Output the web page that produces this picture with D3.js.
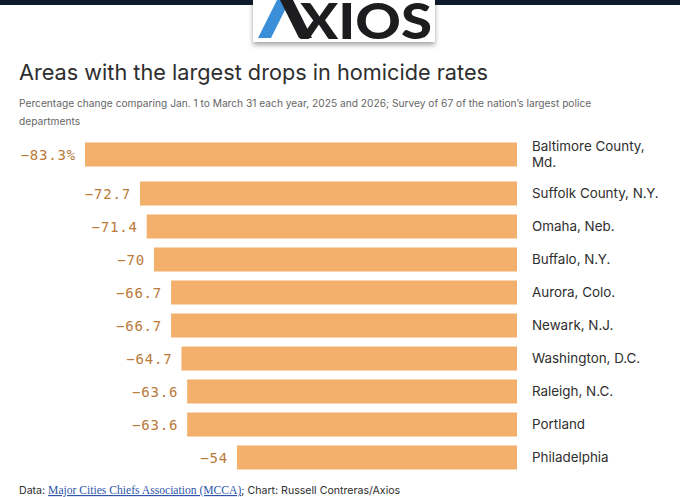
<!DOCTYPE html>
<html>
<head>
<meta charset="utf-8">
<script src="https://cdn.jsdelivr.net/npm/d3@7"></script>
<style>
  html, body { margin: 0; padding: 0; background: #fff; }
  svg { display: block; }
</style>
</head>
<body>
<svg id="chart" width="680" height="497"></svg>
<script>
// ---- data ----
const cities = [
  "Baltimore County,\nMd.",
  "Suffolk County, N.Y.",
  "Omaha, Neb.",
  "Buffalo, N.Y.",
  "Aurora, Colo.",
  "Newark, N.J.",
  "Washington, D.C.",
  "Raleigh, N.C.",
  "Portland",
  "Philadelphia"
];
const changes = [-83.3, -72.7, -71.4, -70, -66.7, -66.7, -64.7, -63.6, -63.6, -54];

const titleText = "Areas with the largest drops in homicide rates";
const subtitleLines = [
  "Percentage change comparing Jan. 1 to March 31 each year, 2025 and 2026; Survey of 67 of the nation\u2019s largest police",
  "departments"
];
const sourceLabel = "Data: ";
const sourceLink = "Major Cities Chiefs Association (MCCA)";
const creditText = "; Chart: Russell Contreras/Axios";

// ---- layout ----
const W = 680, H = 497;
const barColor = "#f3b06c";
const valueColor = "#b97939";
const textColor = "#2e2e2e";
const sans = "Inter, 'Noto Sans', sans-serif";
const mono = "'DejaVu Sans Mono', 'Liberation Mono', monospace";

const svg = d3.select("#chart");

// top dark band + logo
svg.append("rect").attr("x", 0).attr("y", 0).attr("width", W).attr("height", 5).attr("fill", "#0f1b2c");
const defs = svg.append("defs");
const f = defs.append("filter").attr("id", "sh").attr("x", "-20%").attr("y", "-20%").attr("width", "140%").attr("height", "160%");
f.append("feDropShadow").attr("dx", 0).attr("dy", 3).attr("stdDeviation", 2.5).attr("flood-color", "#000").attr("flood-opacity", 0.35);
svg.append("rect").attr("x", 253).attr("y", -5).attr("width", 182).attr("height", 47).attr("fill", "#fff").attr("filter", "url(#sh)");
const logo = svg.append("g");
logo.append("path").attr("d", "M258,38 L277,0 L290,0 L271,38 Z").attr("fill", "#3b8fd9");
logo.append("path").attr("d", "M280,0 L293,0 L312,38 L299,38 Z").attr("fill", "#1d1d1f");
logo.append("text").attr("x", 300).attr("y", 39).text("XIOS")
  .attr("font-family", "Lato, 'DejaVu Sans', sans-serif").attr("font-weight", 900)
  .attr("font-size", 50).attr("fill", "#1d1d1f").attr("textLength", 132).attr("lengthAdjust", "spacingAndGlyphs");

// title + subtitle
svg.append("text").attr("x", 19).attr("y", 80).text(titleText)
  .attr("font-family", sans).attr("font-size", 21.7).attr("fill", textColor);
svg.selectAll("text.sub").data(subtitleLines).join("text").attr("class", "sub")
  .attr("x", 19).attr("y", (d, i) => 107 + i * 18).text(d => d)
  .attr("font-family", sans).attr("font-size", 10.2).attr("fill", "#666");

// rows: a wrapped label makes its row taller
const baseRow = 33, extraPerLine = 12, chartTop = 132;
const rows = [];
let acc = 0;
cities.forEach((c, i) => {
  const lines = c.split("\n");
  const h = baseRow + (lines.length - 1) * extraPerLine;
  rows.push({ city: c, lines, value: changes[i], i, center: chartTop + acc + h / 2 });
  acc += h;
});

const x = d3.scaleLinear().domain([d3.min(changes), 0]).range([85, 517]);
const barH = 24;
const fmt = d3.format(".1~f");

const g = svg.append("g");
g.selectAll("rect.bar").data(rows).join("rect").attr("class", "bar")
  .attr("x", d => x(d.value)).attr("width", d => x(0) - x(d.value))
  .attr("y", d => d.center - barH / 2).attr("height", barH)
  .attr("fill", barColor);

g.selectAll("text.val").data(rows).join("text").attr("class", "val")
  .attr("x", d => x(d.value) - 9).attr("y", d => d.center).attr("dy", "0.36em")
  .attr("text-anchor", "end").attr("font-family", mono).attr("font-size", 14)
  .attr("letter-spacing", 0.8).attr("fill", valueColor)
  .text(d => fmt(d.value) + (d.i === 0 ? "%" : ""));

const lab = g.selectAll("text.lab").data(rows).join("text").attr("class", "lab")
  .attr("x", x(0) + 15).attr("y", d => d.center - (d.lines.length - 1) * 8)
  .attr("font-family", sans).attr("font-size", 13.4).attr("fill", textColor);
lab.selectAll("tspan").data(d => d.lines).join("tspan")
  .attr("x", x(0) + 15).attr("dy", (d, i) => i === 0 ? "0.36em" : 16).text(d => d);

// footer
const foot = svg.append("text").attr("x", 19).attr("y", 494).attr("font-size", 10.6).attr("fill", textColor).attr("font-family", sans);
foot.append("tspan").text(sourceLabel);
foot.append("tspan").text(sourceLink).attr("font-family", "'Liberation Serif', 'DejaVu Serif', serif")
  .attr("font-size", 11.6).attr("fill", "#2d55a8").attr("text-decoration", "underline");
foot.append("tspan").text(creditText);
</script>
</body>
</html>
